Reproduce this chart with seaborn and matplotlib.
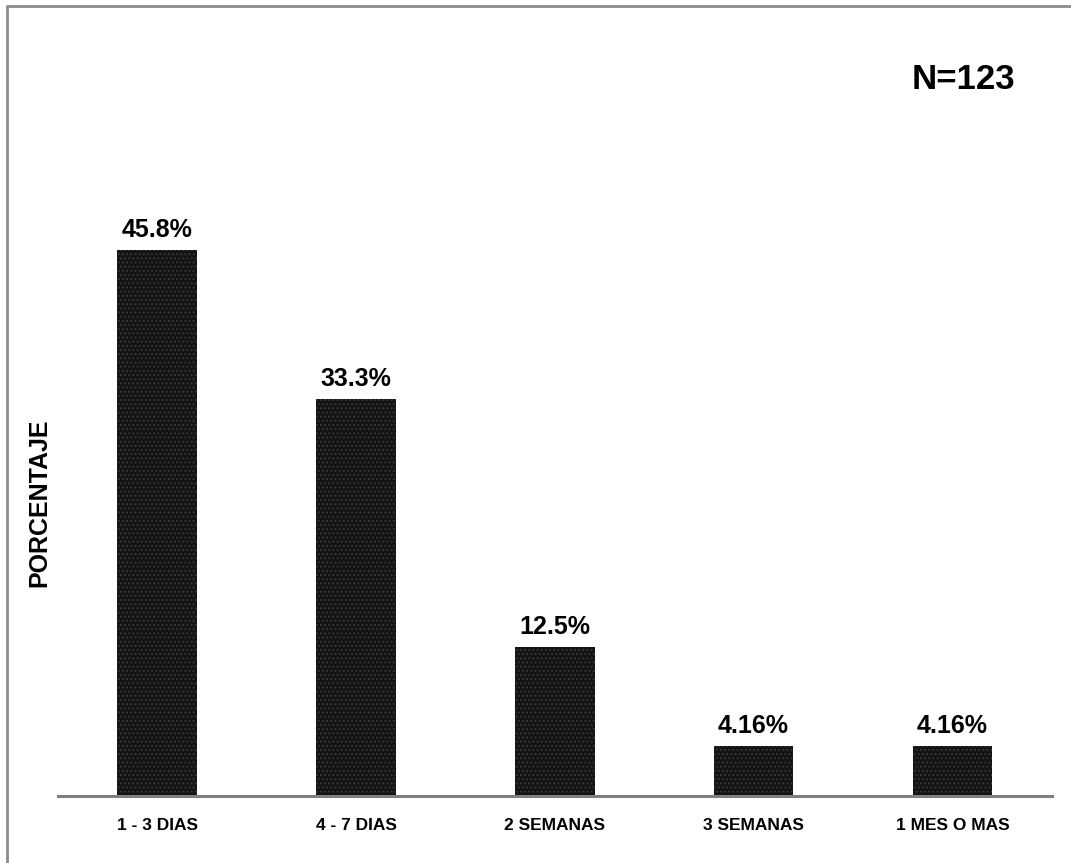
import matplotlib
matplotlib.use("Agg")
import matplotlib.pyplot as plt
from matplotlib.lines import Line2D
import seaborn as sns
import pandas as pd

categorias = ["1 - 3 DIAS", "4 - 7 DIAS", "2 SEMANAS", "3 SEMANAS", "1 MES O MAS"]
porcentajes = [45.8, 33.3, 12.5, 4.16, 4.16]
etiquetas = ["45.8%", "33.3%", "12.5%", "4.16%", "4.16%"]

sns.set_theme(style="white")
plt.rcParams["font.family"] = ["Liberation Sans", "DejaVu Sans"]
plt.rcParams["hatch.linewidth"] = 0.8

df = pd.DataFrame({"categoria": categorias, "porcentaje": porcentajes})

fig = plt.figure(figsize=(10.71, 8.63), dpi=100)
ax = fig.add_axes([0.054, 0.0776, 0.928, 0.76])

sns.barplot(data=df, x="categoria", y="porcentaje", ax=ax, width=0.4,
            color="#141414", saturation=1, edgecolor="#3c3c3c", linewidth=0)
for p in ax.patches:
    p.set_hatch("....")
    p.set_edgecolor("#3a3a3a")

for i, (v, t) in enumerate(zip(porcentajes, etiquetas)):
    ax.annotate(t, xy=(i, v), xytext=(0, 6), textcoords="offset points",
                ha="center", va="bottom", fontsize=18, fontweight="bold",
                color="black")

ax.set_xlim(-0.5, 4.5)
ax.set_ylim(0, 55)
ax.set_yticks([])
ax.set_xlabel("")
ax.set_ylabel("")
for s in ["top", "right", "left"]:
    ax.spines[s].set_visible(False)
ax.spines["bottom"].set_color("#808080")
ax.spines["bottom"].set_linewidth(2.2)
ax.tick_params(axis="x", length=0, pad=16)
for lbl in ax.get_xticklabels():
    lbl.set_fontsize(12.5)
    lbl.set_fontweight("bold")
    lbl.set_color("black")

fig.text(0.037, 0.418, "PORCENTAJE", rotation=90, ha="center", va="center",
         fontsize=18, fontweight="bold", color="black")
fig.text(0.9, 0.908, "N=123", ha="center", va="center",
         fontsize=25, fontweight="bold", color="black")

# outer frame on the left and top edges
fig.add_artist(Line2D([0.0065, 0.0065], [0.0, 0.9935], transform=fig.transFigure,
                      color="#8c8c8c", linewidth=2))
fig.add_artist(Line2D([0.0065, 1.0], [0.9935, 0.9935], transform=fig.transFigure,
                      color="#8c8c8c", linewidth=2))

fig.savefig("out.png", dpi=100, facecolor="white")
